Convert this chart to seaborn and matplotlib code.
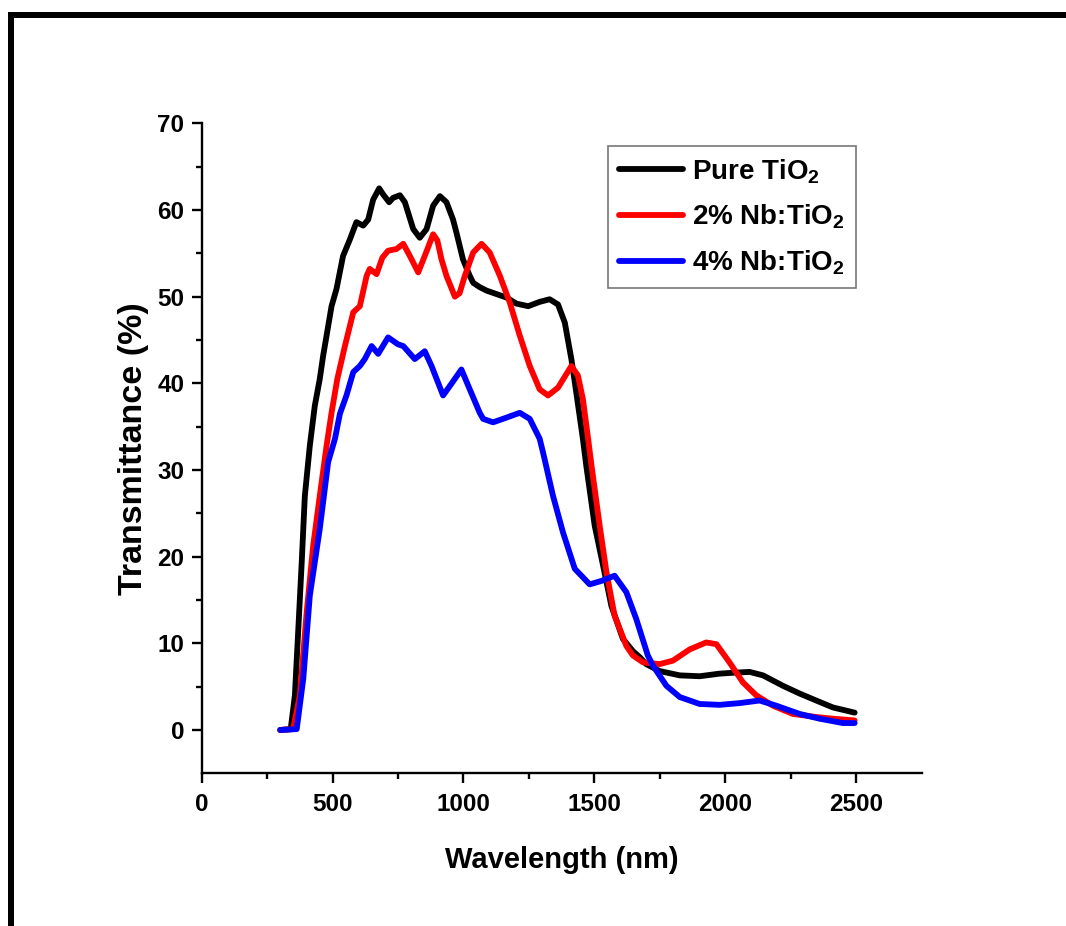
import numpy as np
import pandas as pd
import matplotlib
matplotlib.use("Agg")
import matplotlib.pyplot as plt
from matplotlib.patches import Rectangle
import seaborn as sns

# ---- data ----
pure_x = [300, 340, 356, 369, 382, 394, 413, 432, 451, 464, 477, 496, 515, 540, 566, 591, 617, 636, 655,
          678, 693, 716, 731, 757, 776, 808, 833, 859, 884, 910, 935, 960, 973, 998, 1024, 1037, 1062,
          1088, 1126, 1164, 1202, 1247, 1291, 1329, 1361, 1387, 1412, 1431, 1456, 1469, 1501, 1533, 1565,
          1609, 1647, 1673, 1698, 1749, 1826, 1902, 1978, 2029, 2093, 2144, 2220, 2284, 2347, 2411, 2494]
pure_y = [0, 0.1, 4.0, 11.6, 19.3, 27.0, 32.8, 37.4, 40.5, 43.2, 45.5, 48.9, 50.9, 54.7, 56.6, 58.6, 58.2,
          58.9, 61.2, 62.5, 61.8, 60.9, 61.4, 61.7, 60.9, 57.8, 56.8, 57.8, 60.5, 61.6, 60.9, 58.9, 57.4,
          54.3, 52.4, 51.6, 51.1, 50.7, 50.3, 49.9, 49.2, 48.9, 49.4, 49.7, 49.1, 47.0, 42.8, 38.9, 33.6,
          30.5, 23.6, 19.0, 14.3, 10.5, 9.1, 8.4, 7.6, 6.8, 6.3, 6.2, 6.5, 6.6, 6.7, 6.3, 5.1, 4.2, 3.4,
          2.6, 2.0]

nb2_x = [300, 349, 375, 401, 426, 451, 477, 496, 518, 547, 579, 604, 630, 642, 668, 690, 712, 744, 770,
         795, 827, 852, 884, 900, 916, 935, 967, 985, 1005, 1037, 1069, 1100, 1139, 1177, 1215, 1253, 1291,
         1323, 1361, 1412, 1437, 1456, 1476, 1489, 1520, 1546, 1577, 1622, 1647, 1686, 1749, 1800, 1864,
         1927, 1966, 2016, 2067, 2118, 2182, 2258, 2347, 2411, 2494]
nb2_y = [0, 0.1, 4.0, 13.6, 21.3, 27.0, 32.8, 36.6, 40.5, 44.3, 48.2, 48.9, 52.4, 53.2, 52.6, 54.5, 55.3,
         55.5, 56.1, 54.7, 52.8, 54.7, 57.2, 56.5, 54.3, 52.4, 50.0, 50.4, 52.4, 55.1, 56.1, 55.1, 52.4,
         49.3, 45.5, 42.0, 39.3, 38.6, 39.5, 42.0, 40.9, 38.2, 33.6, 30.5, 23.6, 18.2, 13.2, 9.7, 8.6, 7.8,
         7.6, 8.0, 9.3, 10.1, 9.9, 7.8, 5.5, 4.0, 2.8, 1.85, 1.5, 1.3, 1.1]

nb4_x = [300, 363, 388, 413, 451, 483, 509, 528, 553, 579, 604, 623, 649, 674, 712, 750, 770, 814, 852,
         878, 922, 955, 992, 1024, 1062, 1075, 1113, 1160, 1215, 1253, 1291, 1304, 1342, 1380, 1425, 1482,
         1527, 1577, 1622, 1660, 1704, 1724, 1775, 1826, 1902, 1978, 2055, 2131, 2195, 2284, 2360, 2449,
         2494]
nb4_y = [0, 0.1, 5.9, 15.5, 23.2, 30.9, 33.6, 36.5, 38.6, 41.3, 42.0, 42.8, 44.3, 43.4, 45.3, 44.5, 44.3,
         42.8, 43.7, 42.0, 38.6, 40.0, 41.6, 39.3, 36.6, 35.9, 35.5, 36.0, 36.6, 35.9, 33.6, 32.0, 27.0,
         22.8, 18.6, 16.8, 17.2, 17.8, 15.9, 12.8, 8.6, 7.4, 5.1, 3.8, 3.0, 2.9, 3.1, 3.4, 2.8, 1.85, 1.3,
         0.8, 0.8]

labels = ["Pure TiO$_\\mathbf{2}$", "2% Nb:TiO$_\\mathbf{2}$", "4% Nb:TiO$_\\mathbf{2}$"]
colors = ["#000000", "#ff0000", "#0000ff"]

df = pd.concat([
    pd.DataFrame({"Wavelength": pure_x, "T": pure_y, "Sample": labels[0]}),
    pd.DataFrame({"Wavelength": nb2_x, "T": nb2_y, "Sample": labels[1]}),
    pd.DataFrame({"Wavelength": nb4_x, "T": nb4_y, "Sample": labels[2]}),
], ignore_index=True)

sns.set_style("ticks")
plt.rcParams["font.family"] = ["Liberation Sans", "DejaVu Sans"]
plt.rcParams["font.weight"] = "bold"
plt.rcParams["mathtext.fontset"] = "custom"
plt.rcParams["mathtext.bf"] = "Liberation Sans:bold"
plt.rcParams["mathtext.rm"] = "Liberation Sans:bold"
plt.rcParams["mathtext.default"] = "bf"
for k in ["text.color", "axes.labelcolor", "xtick.color", "ytick.color", "axes.edgecolor"]:
    plt.rcParams[k] = "black"

fig = plt.figure(figsize=(10.66, 9.26), dpi=100)
ax = fig.add_axes([0.1892, 0.1649, 0.6754, 0.7019])

sns.lineplot(data=df, x="Wavelength", y="T", hue="Sample", palette=colors, hue_order=labels,
             estimator=None, sort=False, linewidth=4.2, ax=ax)
for ln in ax.get_lines():
    ln.set_solid_joinstyle("round")
    ln.set_solid_capstyle("round")

ax.set_xlim(0, 2750)
ax.set_ylim(-5, 70)
ax.set_xticks([0, 500, 1000, 1500, 2000, 2500])
ax.set_xticks(np.arange(250, 2750, 500), minor=True)
ax.set_yticks(np.arange(0, 71, 10))
ax.set_yticks(np.arange(5, 70, 10), minor=True)

for s in ["top", "right"]:
    ax.spines[s].set_visible(False)
for s in ["left", "bottom"]:
    ax.spines[s].set_linewidth(1.7)
    ax.spines[s].set_color("black")

ax.tick_params(axis="both", which="major", direction="out", length=7.5, width=1.7, colors="black",
               labelsize=17.5)
ax.tick_params(axis="both", which="minor", direction="out", length=4.3, width=1.7, colors="black")
ax.tick_params(axis="x", which="major", pad=7)
ax.tick_params(axis="y", which="major", pad=5)
for lab in ax.get_xticklabels() + ax.get_yticklabels():
    lab.set_fontweight("bold")

ax.set_xlabel("Wavelength (nm)", fontsize=21, fontweight="bold", labelpad=21)
ax.set_ylabel("Transmittance (%)", fontsize=24.5, fontweight="bold", labelpad=6)

leg = ax.legend(loc="upper left", bbox_to_anchor=(0.564, 0.965), fontsize=20, frameon=True,
                fancybox=False, handlelength=2.3, handletextpad=0.35, labelspacing=0.62,
                borderpad=0.4, borderaxespad=0)
leg.get_frame().set_edgecolor("#555555")
leg.get_frame().set_linewidth(1.2)
for h in leg.get_lines():
    h.set_linewidth(4.2)
for t in leg.get_texts():
    t.set_fontweight("bold")

# outer frame strokes (top and left) as in the reference
fig.add_artist(Rectangle((8 / 1066, (926 - 18) / 926), 1 - 8 / 1066, 6 / 926,
                         transform=fig.transFigure, color="black", lw=0))
fig.add_artist(Rectangle((8 / 1066, 0), 6 / 1066, (926 - 12) / 926,
                         transform=fig.transFigure, color="black", lw=0))

fig.savefig("out.png", dpi=100, facecolor="white")
